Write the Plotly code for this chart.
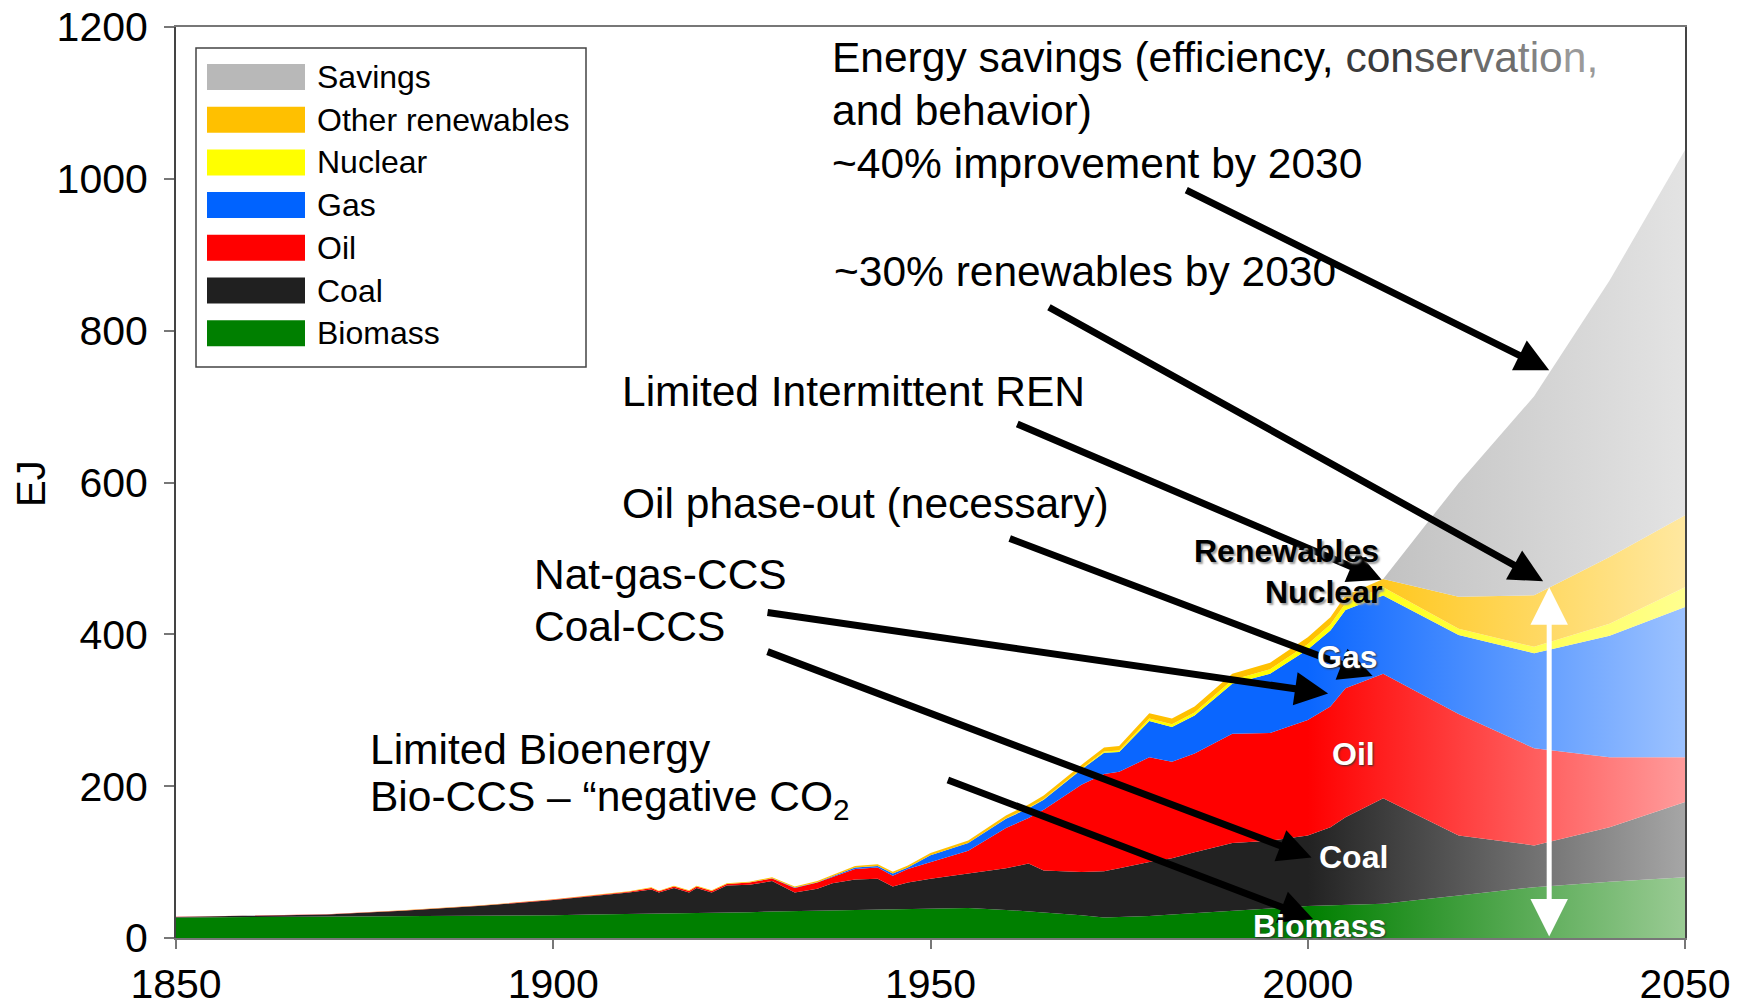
import plotly.graph_objects as go

# ---------------- data (EJ per year) ----------------
years = [1850, 1860, 1870, 1880, 1890, 1900, 1905, 1910, 1913, 1914, 1916, 1918, 1919,
         1921, 1923, 1926, 1929, 1932, 1935, 1937, 1940, 1943, 1945, 1947, 1950, 1955,
         1960, 1963, 1965, 1970, 1973, 1975, 1979, 1982, 1985, 1990, 1995, 2000, 2003,
         2005, 2010, 2020, 2030, 2040, 2050]

biomass = [27, 27.5, 28, 28.5, 29, 30, 31, 31.5, 32, 32, 32.5, 32.5, 33,
           33, 33.5, 34, 35, 35.5, 36, 36.5, 37, 38, 38, 38.5, 39, 39.5,
           37, 35, 34, 30, 27, 27.5, 29, 31, 33, 36, 39, 42, 43,
           44, 45, 56, 67, 74, 80]

coal = [0.8, 1.5, 3, 7.5, 13, 20, 24, 28.5, 32, 28, 33.5, 27.5, 33,
        27, 35.5, 36, 40, 24.5, 29, 35.5, 40, 40, 30, 34.5, 39, 45.5,
        55, 63, 55, 57, 61, 64.5, 71, 74, 80, 89, 89, 93, 103,
        115, 139, 79, 55, 72, 99]

oil = [0.1, 0.1, 0.2, 0.3, 0.4, 0.6, 1, 1, 2, 1.5, 2, 2, 2,
       2, 2, 3, 3.5, 6, 8, 8, 14, 15, 14, 18, 22, 30,
       53, 60, 80, 115, 128, 127, 138, 127, 130, 144, 142, 152, 159,
       170, 164, 160, 128, 92, 59]

gas = [0, 0, 0, 0, 0, 0, 0, 0, 0, 0, 0, 0, 0,
       0, 0, 0, 0.2, 0.5, 0.5, 1, 2, 2, 3, 2, 9, 10,
       12, 13, 13, 20, 28, 26, 48, 46, 50, 66, 78, 93, 100,
       103, 103, 104, 125, 160, 198]

nuclear = [0, 0, 0, 0, 0, 0, 0, 0, 0, 0, 0, 0, 0,
           0, 0, 0, 0, 0, 0, 0, 0, 0, 0, 0, 0, 0,
           0.3, 0.5, 0.7, 1, 1.5, 2, 3, 3.5, 4, 5, 6, 7, 8,
           9, 11, 8.5, 8.5, 16, 26]

renewables = [0.1, 0.1, 0.1, 0.2, 0.3, 0.4, 0.5, 0.6, 0.7, 0.7, 0.8, 0.8, 0.9,
              1, 1, 1.2, 1.4, 1.5, 1.7, 1.8, 2, 2.2, 2.3, 2.5, 3, 3.5,
              4, 4.5, 5, 5, 5.5, 6, 7, 7.5, 8, 8, 8.5, 9, 9.5,
              10, 11, 42, 68, 88, 95]

savings = [0] * 41 + [150, 262, 364, 481]

series_names = ["Biomass", "Coal", "Oil", "Gas", "Nuclear", "Other renewables", "Savings"]
series_values = [biomass, coal, oil, gas, nuclear, renewables, savings]
solid_colors = ["#007f00", "#222222", "#ff0000", "#0a66ff", "#ffff00", "#ffc000", "#c2c2c2"]
faded_colors = ["#9acb94", "#a6a6a6", "#ff9b9b", "#9cc2ff", "#ffff90", "#ffe8a0", "#e3e3e3"]
fade_start = [2000, 2000, 2000, 2000, 2000, 2000, 2010]
legend_colors = {"Savings": "#b8b8b8", "Other renewables": "#ffc000", "Nuclear": "#ffff00",
                 "Gas": "#0063ff", "Oil": "#ff0000", "Coal": "#202020", "Biomass": "#007f00"}

x_ticks = [1850, 1900, 1950, 2000, 2050]
y_ticks = [0, 200, 400, 600, 800, 1000, 1200]

FONT = "Arial, Liberation Sans, sans-serif"

# ---------------- figure ----------------
fig = go.Figure()
for name, vals, c0, c1, gs in zip(series_names, series_values, solid_colors, faded_colors, fade_start):
    fig.add_trace(go.Scatter(
        x=years, y=vals, name=name, stackgroup="one", mode="lines",
        line=dict(width=0),
        fillgradient=dict(type="horizontal", colorscale=[[0, c0], [1, c1]], start=gs, stop=2050),
        hoverinfo="skip", showlegend=False))

# target plot area in page pixels (page body has an 8px offset)
OFF = 8
L, R, T, B = 176, 1685, 27, 938
def PX(px):
    return (px - L) / (R - L)
def PY(py):
    return (B - py) / (B - T)

ann = []
shapes = []

# --- manual legend ---
shapes.append(dict(type="rect", xref="paper", yref="paper", x0=PX(196), x1=PX(586),
                   y0=PY(367), y1=PY(48), line=dict(color="#444", width=1.5),
                   fillcolor="white", layer="above"))
legend_order = ["Savings", "Other renewables", "Nuclear", "Gas", "Oil", "Coal", "Biomass"]
for i, nm in enumerate(legend_order):
    yc = 77 + i * 42.7
    shapes.append(dict(type="rect", xref="paper", yref="paper", x0=PX(207), x1=PX(305),
                       y0=PY(yc + 13), y1=PY(yc - 13), line=dict(width=0),
                       fillcolor=legend_colors[nm], layer="above"))
    ann.append(dict(xref="paper", yref="paper", x=PX(315), y=PY(yc), text=nm,
                    showarrow=False, xanchor="left", yanchor="middle",
                    font=dict(family=FONT, size=32, color="black")))

# --- arrows (data coordinates: year, EJ) ---
arrows = [((2032.0, 748), (1983.7, 986)),
          ((2031.2, 470), (1965.5, 832)),
          ((2009.8, 472), (1961.3, 678)),
          ((2008.6, 345), (1960.3, 527)),
          ((2002.7, 322), (1928.2, 429)),
          ((2000.5, 106), (1928.2, 378)),
          ((2000.7, 25), (1952.1, 209))]
for (hx, hy), (tx, ty) in arrows:
    ann.append(dict(xref="x", yref="y", axref="x", ayref="y", x=hx, y=hy, ax=tx, ay=ty,
                    text="", showarrow=True, arrowhead=2, arrowsize=0.95, arrowwidth=7,
                    arrowcolor="black", standoff=0))

# white double-headed arrow at 2030
ann.append(dict(xref="x", yref="y", axref="x", ayref="y", x=2032, y=462, ax=2032, ay=0,
                text="", showarrow=True, arrowhead=2, startarrowhead=2, arrowside="end+start",
                arrowsize=1.5, startarrowsize=1.5, arrowwidth=5, arrowcolor="white"))

# --- explanatory text ---
def txt(px, py, t, size=42.5, color="black"):
    ann.append(dict(xref="paper", yref="paper", x=PX(px), y=PY(py), text=t,
                    showarrow=False, xanchor="left", yanchor="middle",
                    font=dict(family=FONT, size=size, color=color)))

cons = ("<span style='color:#3a3a3a'>con</span><span style='color:#555555'>ser</span>"
        "<span style='color:#6c6c6c'>va</span><span style='color:#828282'>tio</span>"
        "<span style='color:#9a9a9a'>n,</span>")
txt(830, 58, "Energy savings (efficiency, " + cons)
txt(830, 110, "and behavior)")
txt(830, 163, "~40% improvement by 2030")
txt(832, 272, "~30% renewables by 2030")
txt(620, 391, "Limited Intermittent REN")
txt(620, 504, "Oil phase-out (necessary)")
txt(532, 575, "Nat-gas-CCS")
txt(532, 626, "Coal-CCS")
txt(368, 749, "Limited Bioenergy")
txt(368, 800, "Bio-CCS – “negative CO<sub>2</sub>")

# y-axis title
ann.append(dict(xref="paper", yref="paper", x=PX(31), y=PY(484), text="EJ", textangle=-90,
                showarrow=False, xanchor="center", yanchor="middle",
                font=dict(family=FONT, size=40, color="black")))

# --- in-chart labels (drawn over the arrows) ---
def lab(px, py, t, color, shadow):
    ann.append(dict(xref="paper", yref="paper", x=PX(px), y=PY(py), text="<b>" + t + "</b>",
                    showarrow=False, xanchor="center", yanchor="middle",
                    font=dict(family=FONT, size=32, color=color, shadow=shadow)))

lab(1286, 551, "Renewables", "black", "2px 2px 2px #9a9a9a")
lab(1323, 592, "Nuclear", "black", "2px 2px 2px #9a9a9a")
lab(1347, 657, "Gas", "white", "1px 1px 2px #333")
lab(1353, 754, "Oil", "white", "1px 1px 2px #333")
lab(1353, 857, "Coal", "white", "1px 1px 2px #333")
lab(1319, 926, "Biomass", "white", "1px 1px 2px #333")

fig.update_layout(
    width=1746, height=1002,
    margin=dict(l=L - OFF, r=1746 - (R - OFF), t=T - OFF, b=1002 - (B - OFF)),
    paper_bgcolor="white", plot_bgcolor="white",
    font=dict(family=FONT, color="black"),
    annotations=ann, shapes=shapes, showlegend=False,
    xaxis=dict(range=[1850, 2050], tickvals=x_ticks, ticks="outside", ticklen=9,
               tickcolor="#777", tickwidth=2, showgrid=False, zeroline=False,
               showline=True, linecolor="#777", linewidth=2, mirror=True, automargin=False,
               ticklabeloverflow="allow",
               tickfont=dict(size=41, family=FONT, color="black"), ticklabelstandoff=0),
    yaxis=dict(range=[0, 1200], tickvals=y_ticks, ticks="outside", ticklen=10,
               tickcolor="#777", tickwidth=2, showgrid=False, zeroline=False,
               showline=True, linecolor="#444", linewidth=2, mirror=True, automargin=False,
               ticklabeloverflow="allow",
               tickfont=dict(size=41, family=FONT, color="black"), ticklabelstandoff=8),
)

fig.write_html("out.html")
